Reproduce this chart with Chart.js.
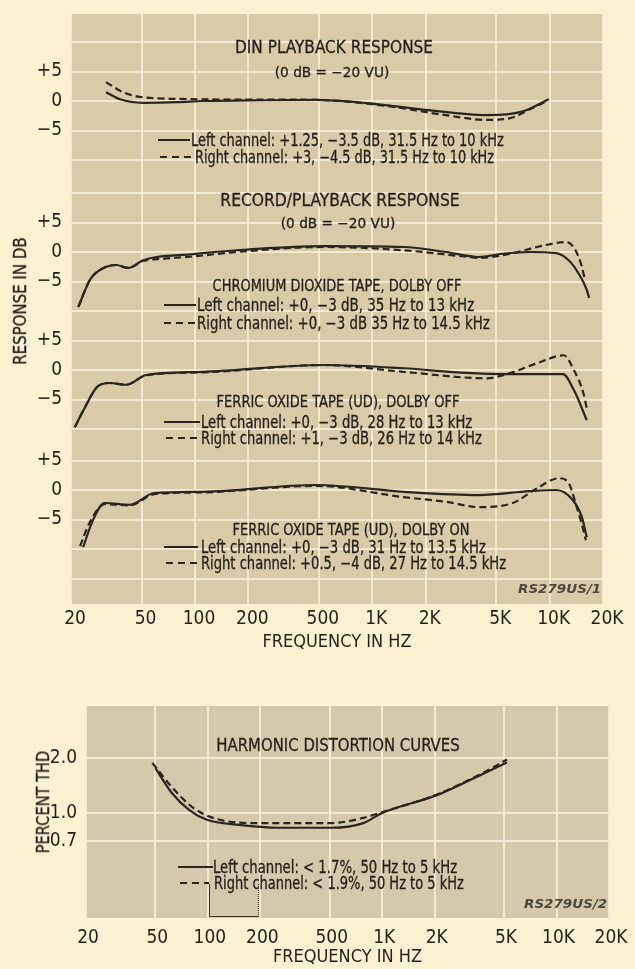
<!DOCTYPE html>
<html><head><meta charset="utf-8">
<script src="https://cdn.jsdelivr.net/npm/chart.js@4.4.1/dist/chart.umd.min.js"></script>
<style>
html,body{margin:0;padding:0;background:#fcf2d2;}
#page{position:relative;width:635px;height:969px;overflow:hidden;background:#fcf2d2;}
#page canvas{position:absolute;left:0;}
.t{position:absolute;white-space:nowrap;line-height:1;color:#241f1a;-webkit-text-stroke:0.3px #241f1a;font-family:"Liberation Sans Narrow","DejaVu Sans Condensed","Liberation Sans",Arial,sans-serif;}
.code{font-style:italic;font-weight:bold;color:#4e473f;-webkit-text-stroke:0;}
.ln{position:absolute;height:2px;background:#2b2520;}
.dl{position:absolute;height:2px;background:repeating-linear-gradient(90deg,#2b2520 0 7px,transparent 7px 12px);}
</style></head>
<body><div id="page">
<canvas id="resp" width="635" height="665" style="top:0"></canvas>
<canvas id="thd" width="635" height="304" style="top:665px"></canvas>
<div style="position:absolute;left:209px;top:884px;width:48px;height:32px;border-left:1.5px solid #3a332c;border-bottom:1.5px solid #3a332c;border-right:1.5px dotted #3a332c;"></div>
</div>
<script>
// ---------- DATA ----------
const xTickValues = [20, 50, 100, 200, 500, 1000, 2000, 5000, 10000, 20000];
const dbGridValues = [-15, -10, -5, 0, 5, 10];
const dbTickLabels = {'5': '+5', '0': '0', '-5': '\u22125'};
const thdTickValues = [0.7, 1.0, 2.0];

// DIN playback response (dB)
const dinFreqL = [31.5, 37.8, 51, 80, 110, 200, 480, 900, 2000, 4400, 7000, 9900];
const dinLeft  = [1.5, 0.3, -0.3, -0.2, 0, 0.1, 0.2, -0.3, -1.5, -2.4, -1.8, 0.3];
const dinFreqR = [31.5, 39.2, 49, 82, 200, 480, 1180, 2600, 4400, 6000, 8000, 9500];
const dinRight = [3.2, 1.5, 0.7, 0.35, 0.25, 0.2, -0.8, -2.4, -3.2, -2.9, -1.2, -0.1];

// Chromium dioxide tape, Dolby off
const cro2FreqL = [22, 25.6, 29.3, 36, 42, 51, 61, 94, 172, 534, 1500, 2600, 4000, 5400, 7700, 10900, 12800, 14400, 16200, 16700];
const cro2Left  = [-9.3, -4.7, -3.0, -2.2, -2.7, -1.4, -0.85, -0.4, 0.3, 1.0, 0.85, 0, -0.85, -0.3, 0, -0.2, -1.4, -3.4, -6.4, -7.8];
const cro2FreqR = [22, 25.6, 29.3, 36, 42, 51, 61, 94, 172, 534, 1500, 3400, 4000, 6200, 8500, 12500, 14000, 15200, 15800];
const cro2Right = [-9.3, -4.7, -3.0, -2.2, -2.7, -1.5, -1.2, -0.8, 0, 0.85, 0.3, -0.8, -1.0, -0.2, 0.85, 1.7, 0.3, -2.5, -4.7];

// Ferric oxide tape (UD), Dolby off
const feOffFreqL = [21, 24, 28, 33, 41, 53, 110, 534, 1500, 3400, 5700, 11900, 13700, 16200];
const feOffLeft  = [-9.7, -6.3, -2.9, -2.2, -2.5, -0.85, -0.3, 0.85, 0.3, -0.5, -0.7, -0.7, -3.4, -8.5];
const feOffFreqR = [21, 24, 28, 33, 41, 53, 110, 534, 1500, 4400, 6000, 8600, 12000, 13700, 15500, 16200];
const feOffRight = [-9.7, -6.3, -2.9, -2.2, -2.5, -0.9, -0.4, 0.85, -0.3, -1.4, -0.5, 1.2, 2.5, 0, -3.9, -6.5];

// Ferric oxide tape (UD), Dolby on
const feOnFreqL = [23.4, 26.6, 31, 43, 59, 110, 480, 1500, 4000, 7700, 10900, 13500, 15200, 16200];
const feOnLeft  = [-9.7, -5.1, -2.2, -2.5, -0.5, -0.3, 0.85, -0.3, -0.85, -0.2, 0, -1.7, -4.6, -8];
const feOnFreqR = [22.5, 25.5, 31, 43, 59, 110, 480, 1500, 2600, 4000, 6200, 8500, 11300, 12800, 14000, 15500, 16000];
const feOnRight = [-9.5, -5.5, -2.4, -2.6, -0.7, -0.4, 0.7, -1.2, -2.0, -2.9, -2.2, 0.3, 2.0, 1.2, -2.2, -6.8, -8.5];

// Harmonic distortion (% THD)
const thdFreqL = [50, 62, 78, 98, 151, 256, 510, 780, 1000, 2100, 3700, 5200];
const thdLeft  = [1.76, 1.29, 1.04, 0.92, 0.86, 0.83, 0.83, 0.88, 1.0, 1.26, 1.62, 1.89];
const thdFreqR = [48, 62, 81, 107, 180, 256, 510, 780, 1000, 2100, 3700, 5200];
const thdRight = [1.88, 1.39, 1.08, 0.94, 0.88, 0.88, 0.88, 0.94, 1.01, 1.27, 1.64, 1.96];

// ---------- STYLE ----------
const FONT = '"Liberation Sans Narrow","DejaVu Sans Condensed","Liberation Sans",Arial,sans-serif';
const ink = '#241f1a';
const gridColor = 'rgba(247,240,218,0.85)';

function pts(f, v) { return f.map((x, i) => ({x: x, y: v[i]})); }
function solid(data, yAxisID) {
  return {data, yAxisID, borderColor: '#2b2520', borderWidth: 2.2, pointRadius: 0,
          cubicInterpolationMode: 'monotone', fill: false};
}
function dashed(data, yAxisID) { return Object.assign(solid(data, yAxisID), {borderDash: [7, 4]}); }

const bgPlugin = {
  id: 'bg',
  beforeDraw(chart, args, opts) {
    const {ctx, chartArea: a} = chart;
    ctx.save(); ctx.fillStyle = opts.color;
    ctx.fillRect(a.left, a.top, a.right - a.left, a.bottom - a.top);
    ctx.restore();
  }
};

function freqAxis(height, pad, titlePad, labelOffset) {
  return {
    type: 'logarithmic', min: 20, max: 20000, border: {display: false},
    grid: {color: gridColor, lineWidth: 2, drawTicks: false},
    afterBuildTicks(s) { s.ticks = xTickValues.map(v => ({value: v})); },
    ticks: {autoSkip: false, maxRotation: 0, padding: pad, labelOffset: labelOffset, color: ink,
            font: {family: FONT, size: 19},
            callback: v => v >= 1000 ? (v / 1000) + 'K' : String(v)},
    title: {display: true, text: 'FREQUENCY IN HZ', color: ink, font: {family: FONT, size: 18},
            padding: {top: 0, bottom: titlePad}},
    afterFit(s) { s.height = height; s.paddingLeft = 0; s.paddingRight = 0; }
  };
}

// stacked response panels (bottom first; last defined is placed on top)
const panelAxes = [
  {id: 'y4', min: -19.32, max: 8.31, w: 163},
  {id: 'y3', min: -12.03, max: 7.97, w: 118},
  {id: 'y2', min: -12.03, max: 12.88, w: 147},
  {id: 'y1', min: -12.71, max: 14.75, w: 162}
];
const respScales = {x: freqAxis(61, 4, 12, 4)};
panelAxes.forEach(p => {
  respScales[p.id] = {
    type: 'linear', position: 'left', stack: 'resp', stackWeight: p.w, min: p.min, max: p.max,
    border: {display: false},
    grid: {color: gridColor, lineWidth: 2, drawTicks: false},
    afterBuildTicks(s) {
      s.ticks = dbGridValues.filter(v => v > s.min && v < s.max).map(v => ({value: v}));
    },
    ticks: {autoSkip: false, padding: 9, color: ink, font: {family: FONT, size: 19},
            callback: v => (dbTickLabels[String(v)] !== undefined ? dbTickLabels[String(v)] : '')},
    afterFit(s) { s.width = 71; s.paddingTop = 0; s.paddingBottom = 0; }
  };
});

new Chart(document.getElementById('resp'), {
  type: 'line',
  data: {datasets: [
    solid(pts(dinFreqL, dinLeft), 'y1'), dashed(pts(dinFreqR, dinRight), 'y1'),
    solid(pts(cro2FreqL, cro2Left), 'y2'), dashed(pts(cro2FreqR, cro2Right), 'y2'),
    solid(pts(feOffFreqL, feOffLeft), 'y3'), dashed(pts(feOffFreqR, feOffRight), 'y3'),
    solid(pts(feOnFreqL, feOnLeft), 'y4'), dashed(pts(feOnFreqR, feOnRight), 'y4')
  ]},
  options: {
    responsive: false, animation: false, devicePixelRatio: 1,
    layout: {padding: {top: 14, right: 32, left: 0, bottom: 0}},
    plugins: {legend: {display: false}, tooltip: {enabled: false}, bg: {color: '#dacba8'}},
    scales: respScales
  },
  plugins: [bgPlugin]
});

new Chart(document.getElementById('thd'), {
  type: 'line',
  data: {datasets: [solid(pts(thdFreqL, thdLeft), 'y'), dashed(pts(thdFreqR, thdRight), 'y')]},
  options: {
    responsive: false, animation: false, devicePixelRatio: 1,
    layout: {padding: {top: 41, right: 26, left: 0, bottom: 0}},
    plugins: {legend: {display: false}, tooltip: {enabled: false}, bg: {color: '#d4c9ab'}},
    scales: {
      x: freqAxis(51, 9, 1, 2),
      y: {
        type: 'logarithmic', position: 'left', min: 0.266, max: 3.85, border: {display: false},
        grid: {color: gridColor, lineWidth: 2, drawTicks: false},
        afterBuildTicks(s) { s.ticks = thdTickValues.map(v => ({value: v})); },
        ticks: {autoSkip: false, padding: 9, color: ink, font: {family: FONT, size: 19},
                callback: v => Number(v).toFixed(1)},
        afterFit(s) { s.width = 86; s.paddingTop = 0; s.paddingBottom = 0; }
      }
    }
  },
  plugins: [bgPlugin]
});

// ---------- ANNOTATION TEXT ----------
const page = document.getElementById('page');
const texts = [
  ['DIN PLAYBACK RESPONSE', 334, 47, 198, 18, 'c'],
  ['(0 dB = \u221220 VU)', 332, 72, 114, 14, 'c'],
  ['Left channel: +1.25, \u22123.5 dB, 31.5 Hz to 10 kHz', 191, 140, 313, 17, 'l'],
  ['Right channel: +3, \u22124.5 dB, 31.5 Hz to 10 kHz', 195, 157, 299, 17, 'l'],
  ['RECORD/PLAYBACK RESPONSE', 340, 200, 239, 18, 'c'],
  ['(0 dB = \u221220 VU)', 338, 223, 114, 14, 'c'],
  ['CHROMIUM DIOXIDE TAPE, DOLBY OFF', 337, 286, 249, 16, 'c'],
  ['Left channel: +0, \u22123 dB, 35 Hz to 13 kHz', 197, 305, 277, 17, 'l'],
  ['Right channel: +0, \u22123 dB 35 Hz to 14.5 kHz', 197, 323, 293, 17, 'l'],
  ['FERRIC OXIDE TAPE (UD), DOLBY OFF', 338, 402, 243, 16, 'c'],
  ['Left channel: +0, \u22123 dB, 28 Hz to 13 kHz', 201, 422, 271, 17, 'l'],
  ['Right channel: +1, \u22123 dB, 26 Hz to 14 kHz', 201, 438, 281, 17, 'l'],
  ['FERRIC OXIDE TAPE (UD), DOLBY ON', 351, 530, 237, 16, 'c'],
  ['Left channel: +0, \u22123 dB, 31 Hz to 13.5 kHz', 201, 547, 285, 17, 'l'],
  ['Right channel: +0.5, \u22124 dB, 27 Hz to 14.5 kHz', 201, 563, 305, 17, 'l'],
  ['RS279US/1', 518, 588, 83, 13, 'l', 'code'],
  ['RESPONSE IN DB', 20, 301, 128, 18, 'r'],
  ['HARMONIC DISTORTION CURVES', 338, 745, 243, 18, 'c'],
  ['Left channel: < 1.7%, 50 Hz to 5 kHz', 213, 867, 244, 17, 'l'],
  ['Right channel: < 1.9%, 50 Hz to 5 kHz', 214, 883, 250, 17, 'l'],
  ['RS279US/2', 524, 903, 83, 13, 'l', 'code'],
  ['PERCENT THD', 43, 802, 103, 18, 'r']
];
const samples = [
  ['s', 158, 190, 140], ['d', 160, 194, 157],
  ['s', 164, 196, 305], ['d', 164, 196, 323],
  ['s', 164, 200, 422], ['d', 166, 198, 438],
  ['s', 164, 198, 547], ['d', 166, 198, 563],
  ['s', 178, 213, 867], ['d', 180, 209, 883]
];
samples.forEach(([k, x1, x2, y]) => {
  const d = document.createElement('div');
  d.className = k === 's' ? 'ln' : 'dl';
  d.style.left = x1 + 'px'; d.style.width = (x2 - x1) + 'px'; d.style.top = (y - 1) + 'px';
  page.appendChild(d);
});
texts.forEach(([txt, x, y, w, size, mode, cls]) => {
  const el = document.createElement('div');
  el.className = 't' + (cls ? ' ' + cls : '');
  el.textContent = txt;
  el.style.fontSize = size + 'px';
  page.appendChild(el);
  const s = w / el.offsetWidth;
  if (mode === 'l') {
    el.style.left = x + 'px'; el.style.top = (y - size / 2) + 'px';
    el.style.transformOrigin = 'left center';
    el.style.transform = 'scaleX(' + s + ')';
  } else if (mode === 'c') {
    el.style.left = x + 'px'; el.style.top = y + 'px';
    el.style.transform = 'translate(-50%,-50%) scaleX(' + s + ')';
  } else {
    el.style.left = x + 'px'; el.style.top = y + 'px';
    el.style.transform = 'translate(-50%,-50%) rotate(-90deg) scaleX(' + s + ')';
  }
});
</script>
</body></html>
